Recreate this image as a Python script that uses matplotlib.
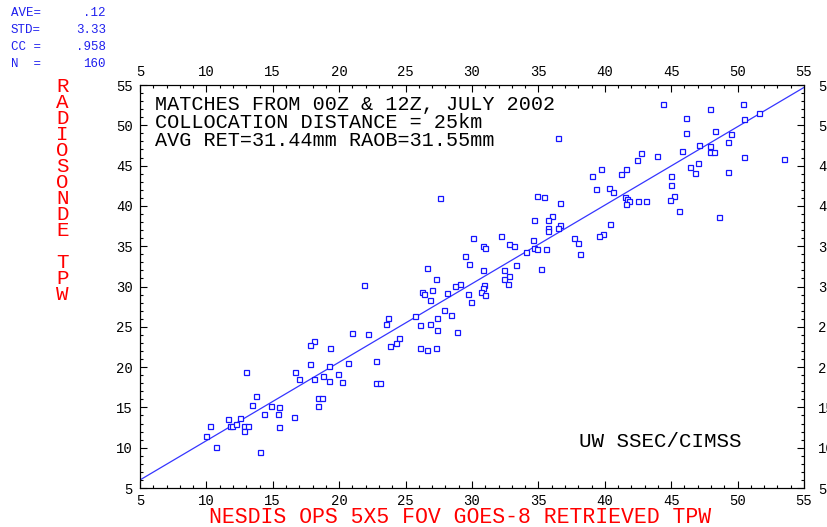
import matplotlib
matplotlib.use('Agg')
import numpy as np
import matplotlib.pyplot as plt
from matplotlib.ticker import MultipleLocator

plt.rcParams['font.family'] = ['Liberation Mono', 'DejaVu Sans Mono']

# NESDIS retrieved TPW (x) vs radiosonde TPW (y), mm
ret_tpw = [23.7, 23.5, 21.0, 22.2, 23.8, 18.1, 17.8, 19.3, 22.8, 20.7,
           17.8, 19.2, 13.0, 16.7, 19.9, 17.0, 18.1, 18.8, 19.2, 20.2,
           22.8, 23.1, 13.7, 18.4, 18.7, 13.4, 14.9, 15.5, 18.4, 14.3,
           15.4, 16.6, 11.6, 12.5, 10.3, 11.8, 11.9, 12.2, 12.8, 13.1,
           15.5, 12.8, 10.0, 10.7, 14.0,
           27.6, 34.9, 35.4, 36.6, 36.0, 34.7, 35.7, 36.6, 35.7, 35.7,
           36.5, 37.7, 38.0, 38.1, 30.1, 32.2, 30.8, 31.0, 32.8, 33.2,
           34.6, 34.7, 34.9, 35.6, 34.1, 29.5, 29.8, 33.3, 26.6, 30.8,
           32.4, 35.2, 32.8, 27.3, 32.4, 32.7, 21.9, 29.1, 28.7, 30.9,
           30.8, 30.7, 31.0, 26.2, 26.4, 27.0, 28.1, 29.7, 26.8, 29.9,
           27.9, 28.4, 25.7, 26.1, 26.8, 27.4, 27.4, 28.9, 24.5, 24.3,
           26.1, 26.6, 27.3,
           44.4, 50.4, 47.9, 46.1, 50.5, 51.6, 48.3, 46.1, 49.5, 47.1,
           47.9, 49.3, 47.9, 48.2, 45.8, 42.7, 43.9, 42.4, 50.5, 53.5,
           46.4, 47.0, 39.7, 41.6, 46.8, 49.3, 39.0, 41.2, 45.0, 45.0,
           39.3, 40.3, 40.6, 41.5, 41.7, 41.8, 41.6, 42.5, 43.1, 45.2,
           44.9, 45.6, 48.6, 40.4, 39.9, 36.5, 39.6]
raob_tpw = [26.1, 25.4, 24.2, 24.1, 22.6, 23.2, 22.7, 22.4, 20.8, 20.5,
            20.4, 20.1, 19.4, 19.4, 19.1, 18.5, 18.5, 18.9, 18.3, 18.2,
            18.0, 18.0, 16.4, 16.2, 16.2, 15.3, 15.2, 15.1, 15.2, 14.2,
            14.2, 13.8, 13.6, 13.7, 12.7, 12.7, 12.7, 12.9, 12.7, 12.7,
            12.6, 12.1, 11.5, 10.1, 9.5,
            41.0, 41.2, 41.1, 40.4, 38.8, 38.3, 38.3, 37.6, 37.3, 36.9,
            37.3, 36.0, 35.4, 34.0, 36.0, 36.3, 35.0, 34.8, 35.3, 35.0,
            35.8, 34.8, 34.7, 34.7, 34.3, 33.8, 32.8, 32.7, 32.3, 32.1,
            32.1, 32.2, 31.3, 30.9, 30.9, 30.3, 30.2, 30.3, 30.1, 30.2,
            29.8, 29.3, 29.0, 29.3, 29.1, 29.6, 29.2, 29.1, 28.3, 28.1,
            27.1, 26.5, 26.3, 25.2, 25.4, 26.1, 24.6, 24.4, 23.6, 23.0,
            22.4, 22.1, 22.4,
            52.6, 52.6, 52.0, 50.9, 50.8, 51.5, 49.3, 49.0, 48.9, 47.6,
            47.4, 47.9, 46.7, 46.7, 46.8, 46.6, 46.2, 45.7, 46.1, 45.8,
            44.8, 45.3, 44.6, 44.6, 44.1, 44.2, 43.7, 44.0, 43.7, 42.6,
            42.1, 42.2, 41.7, 41.1, 40.9, 40.6, 40.2, 40.6, 40.6, 41.2,
            40.7, 39.4, 38.6, 37.8, 36.5, 48.4, 36.3]

# fitted line end points
fit_x = [5, 55]
fit_y = [6.0, 54.7]

stat_names = ['AVE=', 'STD=', 'CC =', 'N  =']
stat_values = ['.12', '3.33', '.958', '160']

header_lines = ['MATCHES FROM 00Z & 12Z, JULY 2002',
                'COLLOCATION DISTANCE = 25km',
                'AVG RET=31.44mm RAOB=31.55mm']

fig = plt.figure(figsize=(8.28, 5.27), dpi=100)
ax = fig.add_axes([140/828, 1 - 488/527, 664/828, 403/527])

ax.plot(fit_x, fit_y, '-', color='#3535ff', lw=0.9, zorder=2)
ax.plot(ret_tpw, raob_tpw, 's', ms=3.6, mfc='white', mec='#1515ff',
        mew=0.9, zorder=3)

ax.set_xlim(5, 55)
ax.set_ylim(5, 55)
ax.set_xticks(range(5, 56, 5))
ax.set_yticks(range(5, 56, 5))
ax.xaxis.set_minor_locator(MultipleLocator(1))
ax.yaxis.set_minor_locator(MultipleLocator(1))
ax.tick_params(which='both', direction='in', top=True, labeltop=True,
               right=False, width=0.8, labelsize=10)
ax.tick_params(which='major', length=5)
ax.tick_params(which='minor', length=2.2)
ax.tick_params(axis='x', pad=4)
ax.tick_params(axis='y', pad=5)
for s in ax.spines.values():
    s.set_linewidth(0.8)

# right side labels sit further out (cut by the figure edge, as in the original)
ax2 = ax.twinx()
ax2.set_ylim(5, 55)
ax2.set_yticks(range(5, 56, 5))
ax2.yaxis.set_minor_locator(MultipleLocator(1))
ax2.tick_params(which='both', direction='in', width=0.8, labelsize=10, pad=10)
ax2.tick_params(which='major', length=5)
ax2.tick_params(which='minor', length=2.2)

for i, line in enumerate(header_lines):
    ax.text(0.0226, 0.938 - i*0.0446, line, transform=ax.transAxes,
            fontsize=14.5, va='baseline', ha='left', color='black')
ax.text(0.783, 0.102, 'UW SSEC/CIMSS', transform=ax.transAxes,
        fontsize=15, va='baseline', ha='center', color='black')

fig.text(460/828, 1 - 523/527, 'NESDIS OPS 5X5 FOV GOES-8 RETRIEVED TPW',
         fontsize=15.5, color='red', ha='center', va='baseline')
fig.text(62.5/828, 1 - 190/527, '\n'.join('RADIOSONDE TPW'),
         fontsize=15, color='red', ha='center', va='center', linespacing=0.8)

for i in range(4):
    y = 1 - (13 + i*17.1)/527
    fig.text(11/828, y, stat_names[i], fontsize=9, color='#2020ee',
             ha='left', va='center')
    fig.text(106/828, y, stat_values[i], fontsize=9, color='#2020ee',
             ha='right', va='center')

fig.savefig('out.png', dpi=100)
